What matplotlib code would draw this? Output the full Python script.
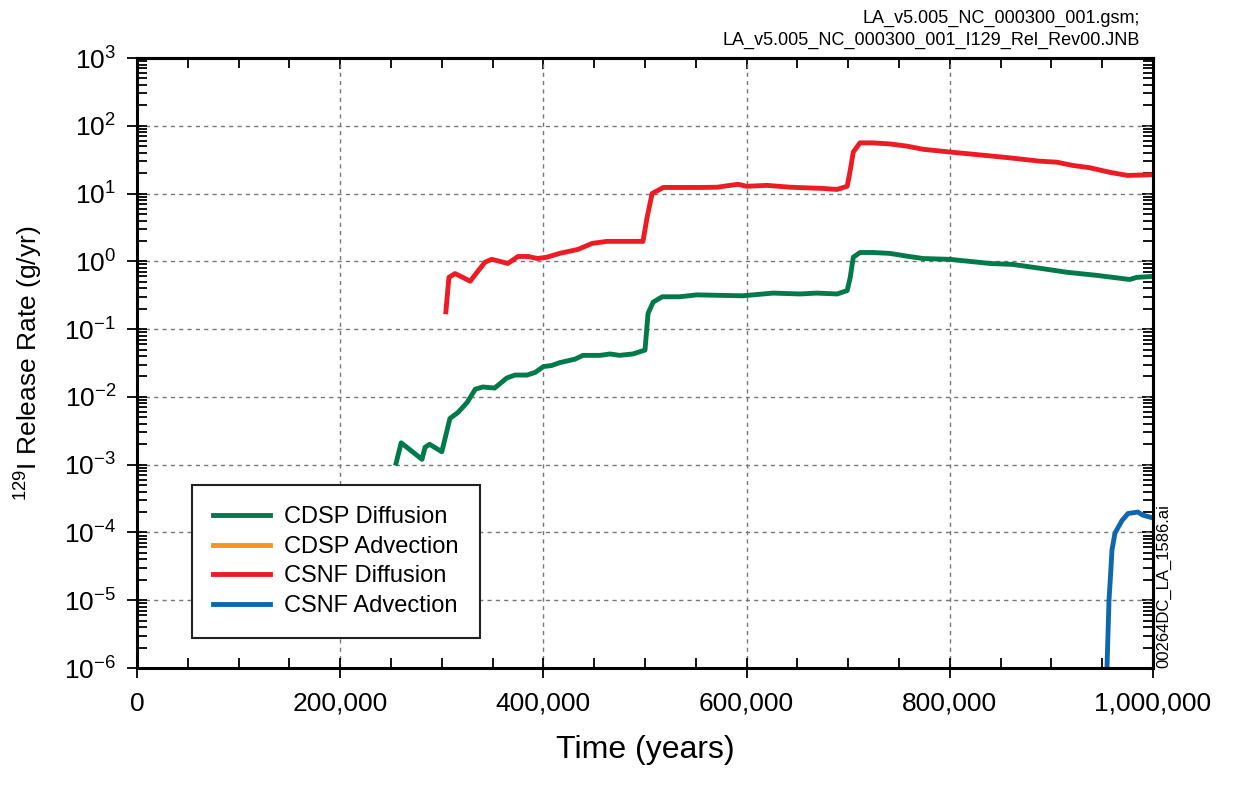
import numpy as np
import matplotlib
matplotlib.use("Agg")
import matplotlib.pyplot as plt
from matplotlib.ticker import MultipleLocator, LogLocator, FuncFormatter, NullFormatter

plt.rcParams["font.family"] = ["Liberation Sans", "DejaVu Sans"]
plt.rcParams["mathtext.fontset"] = "custom"
plt.rcParams["mathtext.rm"] = "Liberation Sans"
plt.rcParams["mathtext.it"] = "Liberation Sans:italic"
plt.rcParams["mathtext.bf"] = "Liberation Sans:bold"

# %%
# Values (time in years, rate in g/yr)
cdsp_diff_t = [255e3, 260e3, 280.5e3, 283.5e3, 288e3, 300e3, 308e3, 316e3, 325e3,
               333e3, 340.5e3, 352e3, 364e3, 372e3, 384e3, 392e3, 400e3, 408e3,
               416e3, 431e3, 439e3, 456e3, 465.5e3, 475e3, 488e3, 500e3, 503e3,
               508e3, 517e3, 534e3, 551e3, 596e3, 626e3, 652.6e3, 669e3, 689e3,
               699e3, 702e3, 705e3, 711.6e3, 724e3, 741e3, 758e3, 773.6e3, 800e3,
               839.6e3, 862e3, 888.8e3, 915e3, 945e3, 977e3, 984e3, 1000e3]
cdsp_diff_r = [1.05e-3, 2.1e-3, 1.2e-3, 1.8e-3, 2.0e-3, 1.55e-3, 4.8e-3, 5.9e-3, 8.3e-3,
               1.3e-2, 1.4e-2, 1.35e-2, 1.9e-2, 2.1e-2, 2.1e-2, 2.3e-2, 2.8e-2, 2.9e-2,
               3.2e-2, 3.6e-2, 4.1e-2, 4.1e-2, 4.3e-2, 4.1e-2, 4.3e-2, 4.9e-2, 0.17,
               0.25, 0.30, 0.30, 0.32, 0.31, 0.34, 0.33, 0.34, 0.33,
               0.37, 0.58, 1.15, 1.35, 1.35, 1.31, 1.19, 1.1, 1.07,
               0.93, 0.90, 0.79, 0.69, 0.62, 0.54, 0.58, 0.60]

cdsp_adv_t = []
cdsp_adv_r = []

csnf_diff_t = [304e3, 307e3, 313e3, 328e3, 333e3, 342.5e3, 349e3, 357e3, 365e3,
               375e3, 385e3, 394e3, 403.5e3, 416e3, 434e3, 448e3, 462.6e3, 478e3,
               498e3, 502e3, 507e3, 518e3, 534e3, 554e3, 571e3, 591.5e3, 600e3,
               620e3, 643e3, 675e3, 689e3, 699e3, 702e3, 705e3, 711.6e3, 724e3,
               741e3, 758e3, 773.6e3, 800e3, 823e3, 856e3, 889e3, 905.5e3, 921e3,
               938e3, 958e3, 975e3, 1000e3]
csnf_diff_r = [0.18, 0.58, 0.66, 0.51, 0.64, 0.97, 1.07, 1.0, 0.93,
               1.18, 1.18, 1.1, 1.15, 1.31, 1.5, 1.84, 1.97, 1.97,
               1.97, 4.4, 10.0, 12.3, 12.3, 12.3, 12.4, 13.7, 12.8,
               13.2, 12.4, 11.9, 11.5, 12.8, 22.0, 41.0, 56.0, 56.0,
               54.0, 50.0, 45.0, 41.0, 38.0, 34.0, 30.0, 29.0, 26.0,
               24.0, 20.5, 18.5, 19.0]

csnf_adv_t = [954.7e3, 956.7e3, 958.7e3, 959.6e3, 962.6e3, 969.5e3, 975.4e3,
              985e3, 990e3, 999e3]
csnf_adv_r = [1e-6, 1e-5, 3.1e-5, 5.5e-5, 9.8e-5, 1.5e-4, 1.9e-4,
              2.0e-4, 1.8e-4, 1.65e-4]

# %%
fig = plt.figure(figsize=(12.33, 7.89), dpi=100)
ax = fig.add_axes([137/1233, 1 - 668/789, 1016/1233, 610/789])

lw = 3.5
ax.plot(cdsp_diff_t, cdsp_diff_r, color="#007a4a", lw=lw, label="CDSP Diffusion")
ax.plot(cdsp_adv_t, cdsp_adv_r, color="#f7941d", lw=lw, label="CDSP Advection")
ax.plot(csnf_diff_t, csnf_diff_r, color="#ed1c24", lw=lw, label="CSNF Diffusion")
ax.plot(csnf_adv_t, csnf_adv_r, color="#0f67ae", lw=lw, label="CSNF Advection")

ax.set_yscale("log")
ax.set_xlim(0, 1e6)
ax.set_ylim(1e-6, 1e3)

ax.xaxis.set_major_locator(MultipleLocator(200000))
ax.xaxis.set_minor_locator(MultipleLocator(50000))
ax.xaxis.set_major_formatter(FuncFormatter(lambda v, p: f"{int(v):,}"))
ax.yaxis.set_major_locator(LogLocator(base=10, numticks=20))
ax.yaxis.set_minor_locator(LogLocator(base=10, subs=np.arange(2, 10), numticks=20))
ax.yaxis.set_minor_formatter(NullFormatter())

ax.tick_params(which="major", direction="inout", length=14, width=1.3,
               labelsize=19, pad=8)
ax.tick_params(axis="x", which="major", pad=10)
ax.tick_params(which="minor", direction="in", length=7, width=1.3)

# top and right ticks point inward only
top = ax.secondary_xaxis("top")
top.xaxis.set_major_locator(MultipleLocator(200000))
top.xaxis.set_minor_locator(MultipleLocator(50000))
top.tick_params(which="both", direction="in", labeltop=False, width=1.3)
top.tick_params(which="major", length=8)
top.tick_params(which="minor", length=7)
right = ax.secondary_yaxis("right")
right.yaxis.set_major_locator(LogLocator(base=10, numticks=20))
right.yaxis.set_minor_locator(LogLocator(base=10, subs=np.arange(2, 10), numticks=20))
right.tick_params(which="both", direction="in", labelright=False, width=1.3)
right.tick_params(which="major", length=8)
right.tick_params(which="minor", length=7)
right.yaxis.set_minor_formatter(NullFormatter())
for a in (top, right):
    for s in a.spines.values():
        s.set_linewidth(2.2)

for s in ax.spines.values():
    s.set_linewidth(2.2)

ax.grid(True, which="major", color="#777777", linestyle=(0, (3, 3)), linewidth=1.0)

ax.set_xlabel("Time (years)", fontsize=23, labelpad=14)
ax.set_ylabel("$^{129}$I Release Rate (g/yr)", fontsize=19, labelpad=14)

leg = ax.legend(loc="upper left", bbox_to_anchor=(0.054, 0.300), borderaxespad=0,
                fontsize=17, handlelength=2.4, labelspacing=0.32, fancybox=False,
                framealpha=1, edgecolor="#222222", borderpad=0.9, handletextpad=0.6)
leg.get_frame().set_linewidth(1.5)

fig.text(1140/1233, 1 - 18/789, "LA_v5.005_NC_000300_001.gsm;", ha="right",
         va="center", fontsize=13)
fig.text(1140/1233, 1 - 40/789, "LA_v5.005_NC_000300_001_I129_Rel_Rev00.JNB",
         ha="right", va="center", fontsize=13)
fig.text(1164/1233, 1 - 668/789, "00264DC_LA_1586.ai", rotation=90, ha="center",
         va="bottom", fontsize=12)

fig.savefig("out.png", dpi=100)
